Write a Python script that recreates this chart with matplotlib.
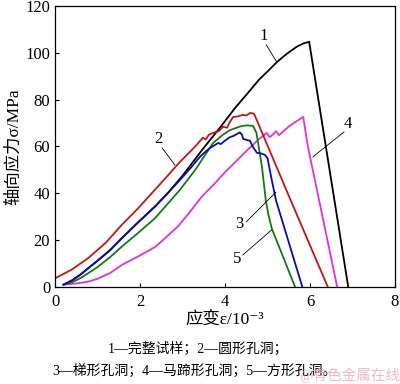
import matplotlib
matplotlib.use('Agg')
import matplotlib.pyplot as plt

plt.rcParams['font.family'] = ['Liberation Serif', 'Noto Sans CJK SC', 'DejaVu Sans']

# strain (10^-3) / stress (MPa)
x1 = [0.2, 0.4, 0.6, 0.78, 1.0, 1.3, 1.57, 1.95, 2.35, 2.66, 3.0, 3.46, 3.88,
      4.24, 4.5, 4.8, 5.0, 5.22, 5.45, 5.69, 5.85, 5.98, 6.9]
y1 = [1, 2.8, 5.3, 8, 11.2, 15.8, 20.8, 27.5, 34.3, 40.2, 47.5, 58.5, 68,
      76.5, 82, 88.5, 92, 96, 99.5, 102.6, 104, 104.7, 0]

x2 = [0.0, 0.4, 0.78, 1.2, 1.57, 1.95, 2.31, 2.6, 2.94, 3.3, 3.48, 3.55, 3.62,
      3.72, 3.85, 3.95, 4.05, 4.1, 4.19, 4.3, 4.42, 4.5, 4.59, 4.68, 4.73,
      5.53, 6.42]
y2 = [3.7, 7.5, 12.3, 19, 26.5, 33.5, 40.7, 46.5, 53.4, 60, 63.7, 63, 65,
      65.8, 66.5, 68.4, 68, 70, 72.6, 72.8, 73.5, 73.2, 74.3, 74, 72,
      37.7, 0]

x3 = [0.2, 0.4, 0.6, 0.78, 1.0, 1.3, 1.57, 1.95, 2.35, 2.66, 2.94, 3.2, 3.41,
      3.62, 3.84, 3.9, 4.0, 4.12, 4.2, 4.35, 4.4, 4.43, 4.59, 4.65, 4.75,
      4.85, 4.94, 5.0, 5.1, 5.2, 5.82]
y3 = [1, 2.8, 5.3, 8, 11.2, 15.8, 20.8, 27.5, 34.3, 40.2, 45.7, 51, 55.6,
      59, 61.5, 61, 62.5, 64, 64.5, 66, 65, 63.2, 62.4, 60, 57.3,
      57, 56.4, 55, 45.7, 37, 0]

x4 = [0.2, 0.5, 0.78, 1.0, 1.3, 1.57, 1.95, 2.35, 2.6, 2.9, 3.15, 3.45, 3.75,
      4.0, 4.25, 4.5, 4.82, 4.9, 4.98, 5.05, 5.12, 5.2, 5.27, 5.5, 5.7,
      5.84, 5.95, 6.64]
y4 = [1, 1.5, 2.3, 3.5, 6, 9.4, 13, 17, 21, 26, 31.5, 38.5, 44,
      49, 53.5, 58, 63.5, 64.5, 65.8, 64, 65, 66.5, 64.8, 68.5, 71,
      72.6, 60, 0]

x5 = [0.2, 0.4, 0.6, 0.78, 1.0, 1.3, 1.57, 1.95, 2.35, 2.65, 2.94, 3.3, 3.72,
      3.95, 4.12, 4.35, 4.51, 4.66, 4.74, 4.87, 4.96, 5.02, 5.1, 5.65]
y5 = [1, 2, 3.8, 5.9, 8.5, 12.8, 17.2, 23, 29.3, 35.5, 41.5, 50, 61.5,
      65, 67, 68.5, 69, 68.8, 65.8, 51.3, 37, 31, 25, 0]

curve_labels = ['1', '2', '3', '4', '5']
caption1 = '1—完整试样；2—圆形孔洞；'
caption2 = '3—梯形孔洞；4—马蹄形孔洞；5—方形孔洞。'

fig = plt.figure(figsize=(4.0, 3.84), dpi=100)
ax = fig.add_axes([0.1375, 0.2526, 0.85, 0.732])

lw = 1.3
ax.plot(x1, y1, color='black', lw=lw)
ax.plot(x4, y4, color='#e030e0', lw=lw)
ax.plot(x5, y5, color='#137a13', lw=lw)
ax.plot(x3, y3, color='#0a0ab4', lw=lw)
ax.plot(x2, y2, color='#c81414', lw=lw)

# labels with leader lines: (text pos, line start, line end)
marks = [((4.92, 107.0), (4.97, 103.4), (5.22, 96.0)),
         ((2.44, 63.0), (2.52, 59.4), (2.82, 52.1)),
         ((4.33, 27.0), (4.5, 27.8), (5.2, 40.5)),
         ((6.9, 69.5), (6.8, 66.2), (6.07, 55.6)),
         ((4.29, 12.0), (4.42, 13.7), (5.1, 24.4))]
for lab, (tp, p0, p1) in zip(curve_labels, marks):
    ax.text(tp[0], tp[1], lab, fontsize=12, ha='center', va='center')
    ax.plot([p0[0], p1[0]], [p0[1], p1[1]], color='black', lw=0.6)

ax.set_xlim(0, 8)
ax.set_ylim(0, 120)
ax.set_xticks([0, 2, 4, 6, 8])
ax.set_yticks([0, 20, 40, 60, 80, 100, 120])
ax.tick_params(direction='in', length=3, labelsize=12, width=0.8)
ax.tick_params(axis='x', pad=5)
for s in ax.spines.values():
    s.set_linewidth(0.9)

ax.set_ylabel('轴向应力σ/MPa', fontsize=12.5, labelpad=2)
ax.set_xlabel('应变ε/10⁻³', fontsize=12.5, labelpad=2)

fig.text(0.495, 1 - 349 / 384, caption1, fontsize=10, ha='center', va='center')
fig.text(0.485, 1 - 371 / 384, caption2, fontsize=10, ha='center', va='center')
fig.text(0.875, 1 - 375 / 384, '@有色金属在线', fontsize=10.5, ha='center',
         va='center', color='#f2a8b0', alpha=0.8)

fig.savefig('out.png', dpi=100)
